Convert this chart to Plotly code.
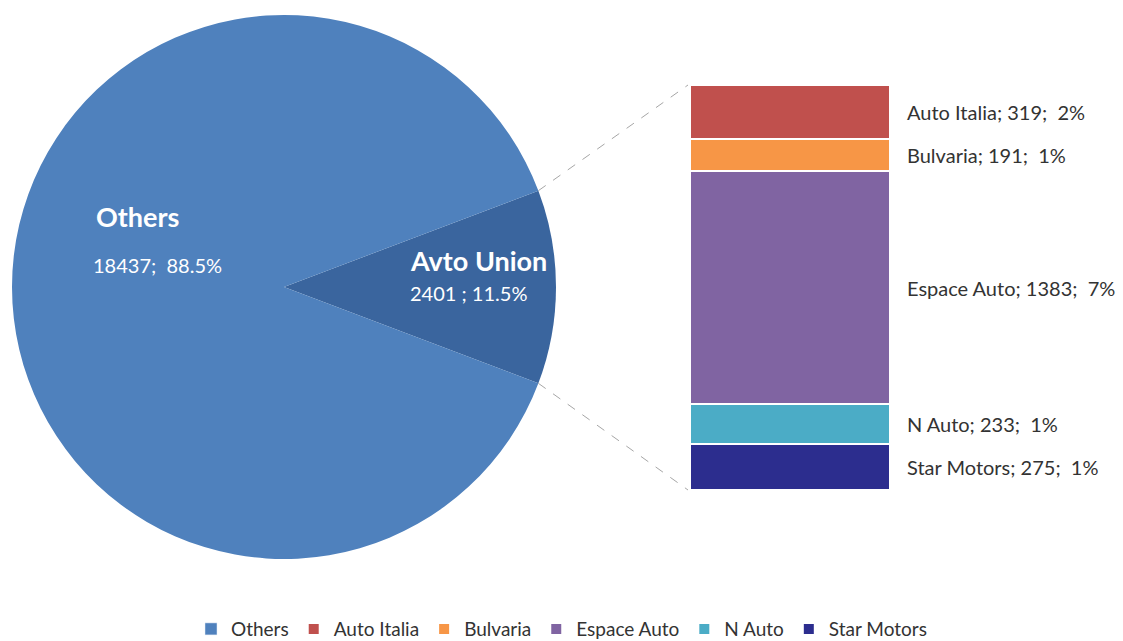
import math
import plotly.graph_objects as go

# ---- data ----
others_label = "Others"
others_value = 18437
group_label = "Avto Union"
brands = ["Auto Italia", "Bulvaria", "Espace Auto", "N Auto", "Star Motors"]
brand_values = [319, 191, 1383, 233, 275]

colors = {
    "Others": "#4F81BD",
    "Avto Union": "#3A659E",
    "Auto Italia": "#C0504D",
    "Bulvaria": "#F79646",
    "Espace Auto": "#8064A2",
    "N Auto": "#4BACC6",
    "Star Motors": "#2C2D8E",
}

W, H = 1123, 641
FONT = "Lato"

group_value = sum(brand_values)
total = others_value + group_value

# ---- layout geometry (pixels) ----
cx, cy, r = 284, 287, 272           # pie centre/radius
bx0, bx1 = 690, 890                 # bar left/right
by_top, by_bot = 85, 490            # bar top/bottom

def px(x):
    return x / W

def py(y):
    return 1 - y / H

fig = go.Figure()

half = 360 * group_value / total / 2
fig.add_trace(go.Pie(
    labels=[group_label, others_label],
    values=[group_value, others_value],
    sort=False,
    direction="clockwise",
    rotation=90 - half,
    marker=dict(colors=[colors[group_label], colors[others_label]],
                line=dict(color="white", width=0)),
    textinfo="none",
    hoverinfo="label+value+percent",
    showlegend=False,
    domain=dict(x=[px(cx - r), px(cx + r)], y=[py(cy + r), py(cy - r)]),
))

# legend proxy for Others
fig.add_trace(go.Bar(x=[None], y=[None], name=others_label,
                     marker=dict(color=colors[others_label]),
                     legendrank=1, showlegend=True))

# stacked bar (bottom to top)
for i in reversed(range(len(brands))):
    b = brands[i]
    fig.add_trace(go.Bar(
        x=[0], y=[brand_values[i]], name=b, width=1,
        marker=dict(color=colors[b], line=dict(color="white", width=2)),
        legendrank=2 + i,
        hovertemplate=b + ": %{y}<extra></extra>",
    ))

annotations = []
# pie labels
annotations.append(dict(x=px(94), y=py(216), xref="paper", yref="paper",
                        text="<b>" + others_label + "</b>", showarrow=False,
                        xanchor="left", yanchor="middle",
                        font=dict(family=FONT, size=27, color="white")))
annotations.append(dict(x=px(91), y=py(265), xref="paper", yref="paper",
                        text=f"{others_value};  {others_value / total * 100:.1f}%",
                        showarrow=False, xanchor="left", yanchor="middle",
                        font=dict(family=FONT, size=20, color="white")))
annotations.append(dict(x=px(408), y=py(260), xref="paper", yref="paper",
                        text="<b>" + group_label + "</b>", showarrow=False,
                        xanchor="left", yanchor="middle",
                        font=dict(family=FONT, size=27, color="white")))
annotations.append(dict(x=px(408), y=py(293), xref="paper", yref="paper",
                        text=f"{group_value} ; {group_value / total * 100:.1f}%",
                        showarrow=False, xanchor="left", yanchor="middle",
                        font=dict(family=FONT, size=20, color="white")))

# bar labels
top = group_value
for b, v in zip(brands, brand_values):
    mid = top - v / 2
    top -= v
    annotations.append(dict(x=0.5, y=mid, xref="x", yref="y",
                            text=f"{b}; {v};  {v / total * 100:.0f}%",
                            showarrow=False, xanchor="left", yanchor="middle",
                            xshift=15,
                            font=dict(family=FONT, size=20, color="#333333")))

# connector lines
th = math.radians(half)
p_top = (cx + r * math.cos(th), cy - r * math.sin(th))
p_bot = (cx + r * math.cos(th), cy + r * math.sin(th))
shapes = [
    dict(type="line", xref="paper", yref="paper",
         x0=px(p_top[0]), y0=py(p_top[1]), x1=px(bx0 - 2), y1=py(by_top),
         line=dict(color="#A6A6A6", width=1, dash="dash")),
    dict(type="line", xref="paper", yref="paper",
         x0=px(p_bot[0]), y0=py(p_bot[1]), x1=px(bx0 - 2), y1=py(by_bot),
         line=dict(color="#A6A6A6", width=1, dash="dash")),
]

fig.update_layout(
    width=W, height=H,
    margin=dict(l=0, r=0, t=0, b=0, autoexpand=False),
    paper_bgcolor="white", plot_bgcolor="white",
    barmode="stack", bargap=0,
    font=dict(family=FONT, size=20, color="#333333"),
    xaxis=dict(domain=[px(bx0), px(bx1)], range=[-0.5, 0.5], visible=False,
               fixedrange=True),
    yaxis=dict(domain=[py(by_bot), py(by_top)], range=[0, group_value],
               visible=False, fixedrange=True),
    legend=dict(orientation="h", x=0.5, xanchor="center", y=-0.011,
                yanchor="bottom", traceorder="normal",
                font=dict(family=FONT, size=19, color="#333333")),
    annotations=annotations,
    shapes=shapes,
)

fig.write_html("out.html")
